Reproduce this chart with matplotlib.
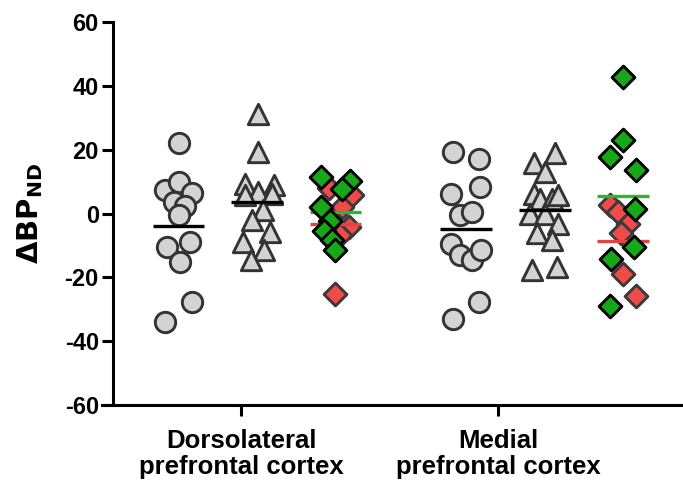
import matplotlib
matplotlib.use("Agg")
import matplotlib.pyplot as plt
import numpy as np

plt.rcParams['font.family'] = ['Liberation Sans', 'DejaVu Sans']
plt.rcParams['font.weight'] = 'bold'

regions = ["Dorsolateral\nprefrontal cortex", "Medial\nprefrontal cortex"]
y_ticks = [-60, -40, -20, 0, 20, 40, 60]

# Values
dl_circles = [22.2, 7.3, 10.0, 6.5, 3.7, 2.3, -0.5, -10.4, -8.9, -15.2, -27.7, -34.0]
dl_triangles = [31.4, 19.4, 9.4, 9.1, 6.8, 5.8, 6.3, 1.1, -2.1, -5.7, -8.9, -11.5, -14.6]
dl_green = [11.5, 10.3, 7.6, 2.1, -2.3, -5.4, -8.4, -11.3]
dl_red = [7.9, 5.8, 2.1, -4.2, -6.8, -25.1]
md_circles = [19.4, 17.0, 8.2, 6.3, -0.5, 0.5, -9.4, -13.1, -14.6, -11.5, -27.7, -32.9]
md_triangles = [19.1, 15.9, 13.1, 6.3, 4.7, 4.7, 5.8, 0.0, 0.0, -3.1, -6.2, -8.4, -17.8, -16.7]
md_green = [42.9, 23.0, 17.8, 13.8, 1.6, -10.5, -14.1, -29.1]
md_red = [2.6, 0.5, -3.1, -6.2, -18.8, -25.9]

# Horizontal scatter offsets (pixels from column centre)
j_dl_circles = [0, -13.5, 0, 13, -5, 6.5, 0, -12, 11.5, 1, 13, -13.5]
j_dl_triangles = [0.5, 0.5, -12, 17, 0.5, -12, 14.5, 6, -5, 13, -14, 7, -6]
j_dl_green = [-15, 14, 6, -15, -5.5, -12, -4, -0.5]
j_dl_red = [-7, 16, 6, 13, 4.5, -0.5]
j_md_circles = [-12.5, 13, 14.5, -14.5, -6, 6.5, -14.5, -6, 6.5, 15.5, 13, -12.5]
j_md_triangles = [10, -11.5, 0, -11.5, -5, 6.5, 13, -15, 0, 13, -8.5, 6.5, -13.5, 11.5]
j_md_green = [0, 0, -13, 13.5, 12, 11, -11.5, -13]
j_md_red = [-13, -4.5, 5, -1.5, 0, 13.5]

PX = 78.5  # column spacing in pixels
col_pos = {"dl": [0.0, 1.0, 2.0], "md": [3.66, 4.67, 5.66]}
tick_pos = [0.80, 4.07]

fig = plt.figure(figsize=(6.83, 4.91), dpi=100)
ax = fig.add_axes([102 / 683, 1 - 405 / 491, 1 - 102 / 683, (405 - 22.3) / 491])

grey_fc = '#d3d3d3'
grey_ec = '#333333'
green_fc = '#16a816'
red_fc = '#f04b4b'
green_line = '#2db52d'
red_line = '#e04545'

def jit(j):
    return np.array(j) / PX

def mean_line(x, vals, color):
    m = np.mean(vals)
    ax.plot([x - 0.33, x + 0.33], [m, m], color=color, lw=2.4, solid_capstyle='butt', zorder=4)

for key, circ, jc, tri, jt, gr, jg, rd, jr in [
    ("dl", dl_circles, j_dl_circles, dl_triangles, j_dl_triangles, dl_green, j_dl_green, dl_red, j_dl_red),
    ("md", md_circles, j_md_circles, md_triangles, j_md_triangles, md_green, j_md_green, md_red, j_md_red)]:
    x0, x1, x2 = col_pos[key]
    ax.scatter(x0 + jit(jc), circ, s=215, marker='o', facecolor=grey_fc, edgecolor=grey_ec, linewidth=2.1, zorder=3)
    mean_line(x0, circ, 'black')
    ax.scatter(x1 + jit(jt), tri, s=215, marker='^', facecolor=grey_fc, edgecolor=grey_ec, linewidth=2.1, zorder=3)
    mean_line(x1, tri, 'black')
    ax.scatter(x2 + jit(jr), rd, s=135, marker='D', facecolor=red_fc, edgecolor='#3a3a3a', linewidth=2.1, zorder=3)
    mean_line(x2, rd, red_line)
    mean_line(x2, gr, green_line)
    ax.scatter(x2 + jit(jg), gr, s=135, marker='D', facecolor=green_fc, edgecolor='black', linewidth=2.1, zorder=5)

ax.set_xlim((102 - 178.5) / PX, (683 - 178.5) / PX)
ax.set_ylim(-60, 60)
ax.spines['top'].set_visible(False)
ax.spines['right'].set_visible(False)
ax.spines['left'].set_position(('data', (112.7 - 178.5) / PX))
for s in ['left', 'bottom']:
    ax.spines[s].set_linewidth(2.2)
ax.set_yticks(y_ticks)
ax.set_yticklabels([str(t) for t in y_ticks], fontsize=17, fontweight='bold')
ax.set_xticks(tick_pos)
ax.set_xticklabels(regions, fontsize=18.5, fontweight='bold', linespacing=1.15)
ax.tick_params(axis='y', direction='out', width=2.2, length=8, pad=2)
ax.tick_params(axis='x', direction='out', width=2.2, length=8, pad=9)
ax.set_ylabel(r'$\mathbf{\Delta BP_{ND}}$', fontsize=21, labelpad=14)

fig.savefig('out.png', dpi=100)
